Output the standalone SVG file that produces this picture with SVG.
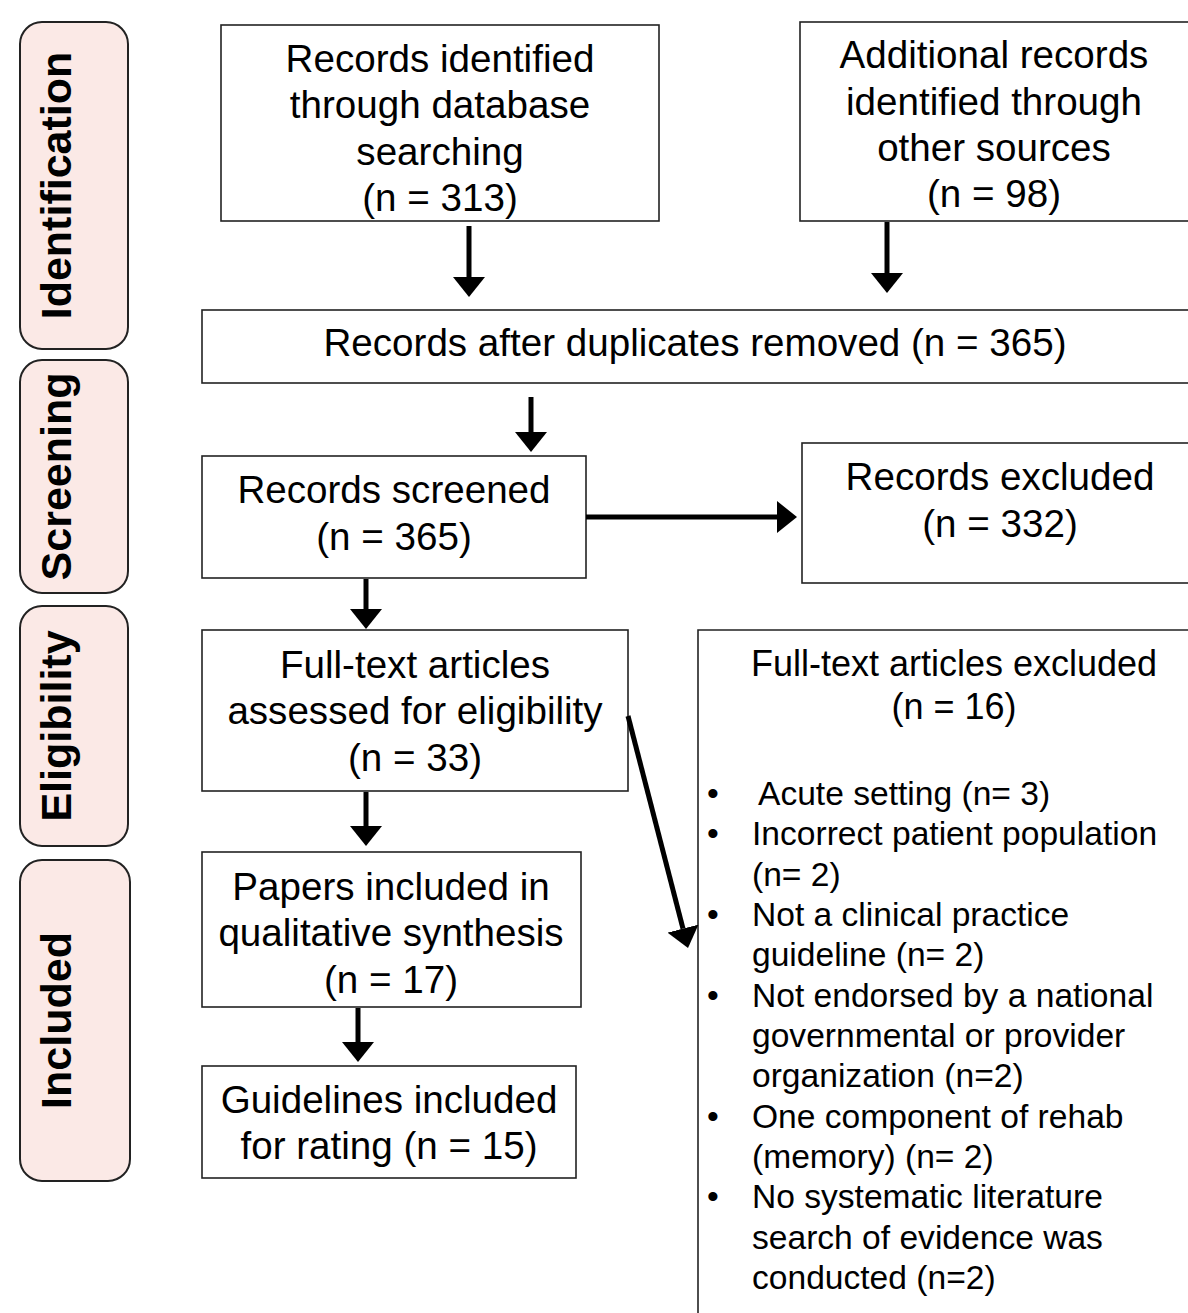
<svg xmlns="http://www.w3.org/2000/svg" width="1188" height="1313" viewBox="0 0 1188 1313">
<defs>
<marker id="ah" viewBox="0 0 20 32" refX="0" refY="16" markerWidth="20" markerHeight="32" markerUnits="userSpaceOnUse" orient="auto"><path d="M0,0 L20,16 L0,32 Z" fill="#000"/></marker>
<style>
.stage{fill:#fbe9e6;stroke:#222;stroke-width:2}
.stxt{font-family:"Liberation Sans",Arial,sans-serif;font-weight:bold;font-size:43px;fill:#000;text-anchor:middle}
.box{fill:#fff;stroke:#222;stroke-width:1.6}
.t{font-family:"Liberation Sans",Arial,sans-serif;font-size:38.6px;fill:#000;text-anchor:middle}
.tb{font-family:"Liberation Sans",Arial,sans-serif;font-size:33.6px;fill:#000}
.th{font-family:"Liberation Sans",Arial,sans-serif;font-size:36px;fill:#000;text-anchor:middle}
.arr{stroke:#000;stroke-width:5;fill:none;marker-end:url(#ah)}
</style>
</defs>
<rect width="1188" height="1313" fill="#fff"/>
<g id="stage-identification"><rect class="stage" x="20" y="22" width="108" height="327" rx="22"/><text class="stxt" transform="translate(71,185.5) rotate(-90)">Identification</text></g>
<g id="stage-screening"><rect class="stage" x="20" y="360" width="108" height="233" rx="22"/><text class="stxt" transform="translate(71,476.5) rotate(-90)">Screening</text></g>
<g id="stage-eligibility"><rect class="stage" x="20" y="606" width="108" height="240" rx="22"/><text class="stxt" transform="translate(71,726) rotate(-90)">Eligibility</text></g>
<g id="stage-included"><rect class="stage" x="20" y="860" width="110" height="321" rx="22"/><text class="stxt" transform="translate(71,1020.5) rotate(-90)">Included</text></g>

<g id="n-db"><rect class="box" x="221" y="25" width="438" height="196"/>
<text class="t" x="440" y="72">Records identified</text><text class="t" x="440" y="118">through database</text><text class="t" x="440" y="165">searching</text><text class="t" x="440" y="211">(n = 313)</text></g>
<g id="n-other"><rect class="box" x="800" y="22" width="390" height="199"/>
<text class="t" x="994" y="68">Additional records</text><text class="t" x="994" y="115">identified through</text><text class="t" x="994" y="161">other sources</text><text class="t" x="994" y="207">(n = 98)</text></g>
<g id="n-dup"><rect class="box" x="202" y="310" width="988" height="73"/>
<text class="t" x="695" y="356">Records after duplicates removed (n = 365)</text></g>
<g id="n-screened"><rect class="box" x="202" y="456" width="384" height="122"/>
<text class="t" x="394" y="503">Records screened</text><text class="t" x="394" y="550">(n = 365)</text></g>
<g id="n-excl"><rect class="box" x="802" y="443" width="388" height="140"/>
<text class="t" x="1000" y="490">Records excluded</text><text class="t" x="1000" y="537">(n = 332)</text></g>
<g id="n-fulltext"><rect class="box" x="202" y="630" width="426" height="161"/>
<text class="t" x="415" y="678">Full-text articles</text><text class="t" x="415" y="724">assessed for eligibility</text><text class="t" x="415" y="771">(n = 33)</text></g>
<g id="n-ftexcl"><path class="box" d="M698,1313 L698,630 L1190,630" fill="none"/>
<text class="th" x="954" y="676">Full-text articles excluded</text><text class="th" x="954" y="719">(n = 16)</text>
<g class="tb">
<text x="707" y="805">•</text><text x="758" y="805">Acute setting (n= 3)</text>
<text x="707" y="845">•</text><text x="752" y="845">Incorrect patient population</text>
<text x="752" y="886">(n= 2)</text>
<text x="707" y="926">•</text><text x="752" y="926">Not a clinical practice</text>
<text x="752" y="966">guideline (n= 2)</text>
<text x="707" y="1007">•</text><text x="752" y="1007">Not endorsed by a national</text>
<text x="752" y="1047">governmental or provider</text>
<text x="752" y="1087">organization (n=2)</text>
<text x="707" y="1128">•</text><text x="752" y="1128">One component of rehab</text>
<text x="752" y="1168">(memory) (n= 2)</text>
<text x="707" y="1208">•</text><text x="752" y="1208">No systematic literature</text>
<text x="752" y="1249">search of evidence was</text>
<text x="752" y="1289">conducted (n=2)</text>
</g></g>
<g id="n-papers"><rect class="box" x="202" y="852" width="379" height="155"/>
<text class="t" x="391" y="900">Papers included in</text><text class="t" x="391" y="946">qualitative synthesis</text><text class="t" x="391" y="993">(n = 17)</text></g>
<g id="n-guidelines"><rect class="box" x="202" y="1066" width="374" height="112"/>
<text class="t" x="389" y="1113">Guidelines included</text><text class="t" x="389" y="1159">for rating (n = 15)</text></g>

<g id="connectors">
<line class="arr" x1="469" y1="226" x2="469" y2="277"/>
<line class="arr" x1="887" y1="222" x2="887" y2="273"/>
<line class="arr" x1="531" y1="397" x2="531" y2="432"/>
<line class="arr" x1="586" y1="517" x2="777" y2="517"/>
<line class="arr" x1="366" y1="579" x2="366" y2="609"/>
<line class="arr" x1="366" y1="792" x2="366" y2="826"/>
<line class="arr" x1="358" y1="1008" x2="358" y2="1042"/>
<line class="arr" x1="628" y1="716" x2="683" y2="928.6"/>
</g>
</svg>
